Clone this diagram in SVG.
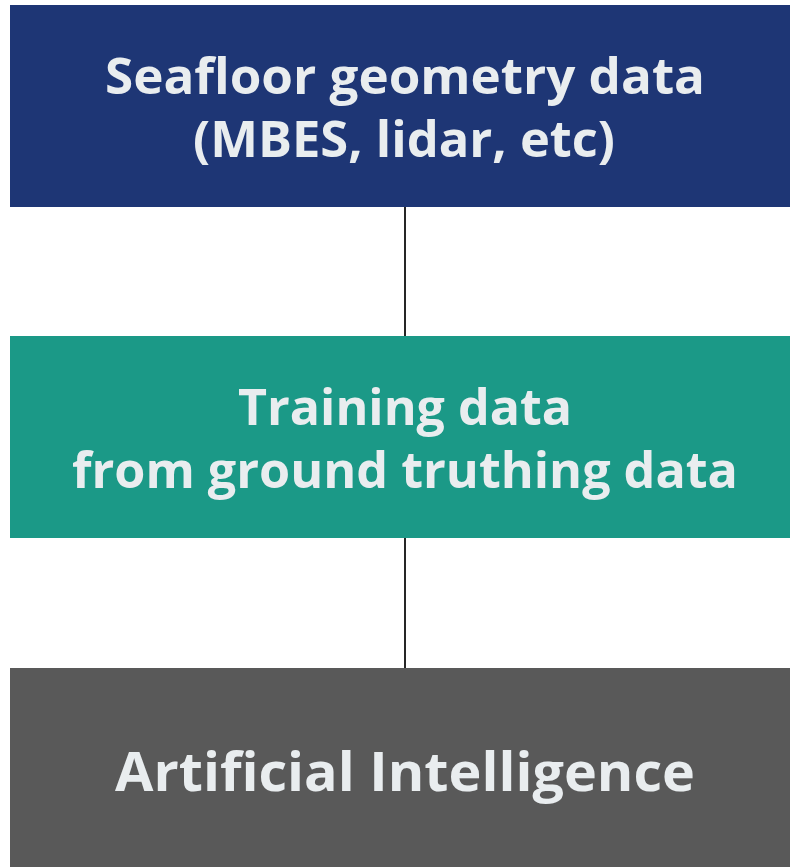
<svg xmlns="http://www.w3.org/2000/svg" width="790" height="867" viewBox="0 0 790 867">
  <style>
    .label { font-family: "Open Sans", "Liberation Sans", sans-serif; font-weight: 700; font-size: 50px; fill: #e9edef; text-anchor: middle; }
    .link { stroke: #262626; stroke-width: 2; fill: none; }
  </style>
  <rect width="790" height="867" fill="#ffffff"/>
  <g id="connectors">
    <line class="link" x1="405" y1="207" x2="405" y2="336"/>
    <line class="link" x1="405" y1="538" x2="405" y2="668"/>
  </g>
  <g id="seafloor">
    <rect x="10" y="5" width="780" height="202" fill="#1e3675"/>
    <text class="label" x="405" y="94" textLength="600" lengthAdjust="spacingAndGlyphs">Seafloor geometry data</text>
    <text class="label" x="404" y="157" textLength="422" lengthAdjust="spacingAndGlyphs">(MBES, lidar, etc)</text>
  </g>
  <g id="training">
    <rect x="10" y="336" width="780" height="202" fill="#1b9987"/>
    <text class="label" x="405" y="425" textLength="334" lengthAdjust="spacingAndGlyphs">Training data</text>
    <text class="label" x="405" y="488" textLength="666" lengthAdjust="spacingAndGlyphs">from ground truthing data</text>
  </g>
  <g id="ai">
    <rect x="10" y="668" width="780" height="199" fill="#595959"/>
    <text class="label" x="405" y="791" style="font-size:53px" textLength="580" lengthAdjust="spacingAndGlyphs">Artificial Intelligence</text>
  </g>
</svg>
